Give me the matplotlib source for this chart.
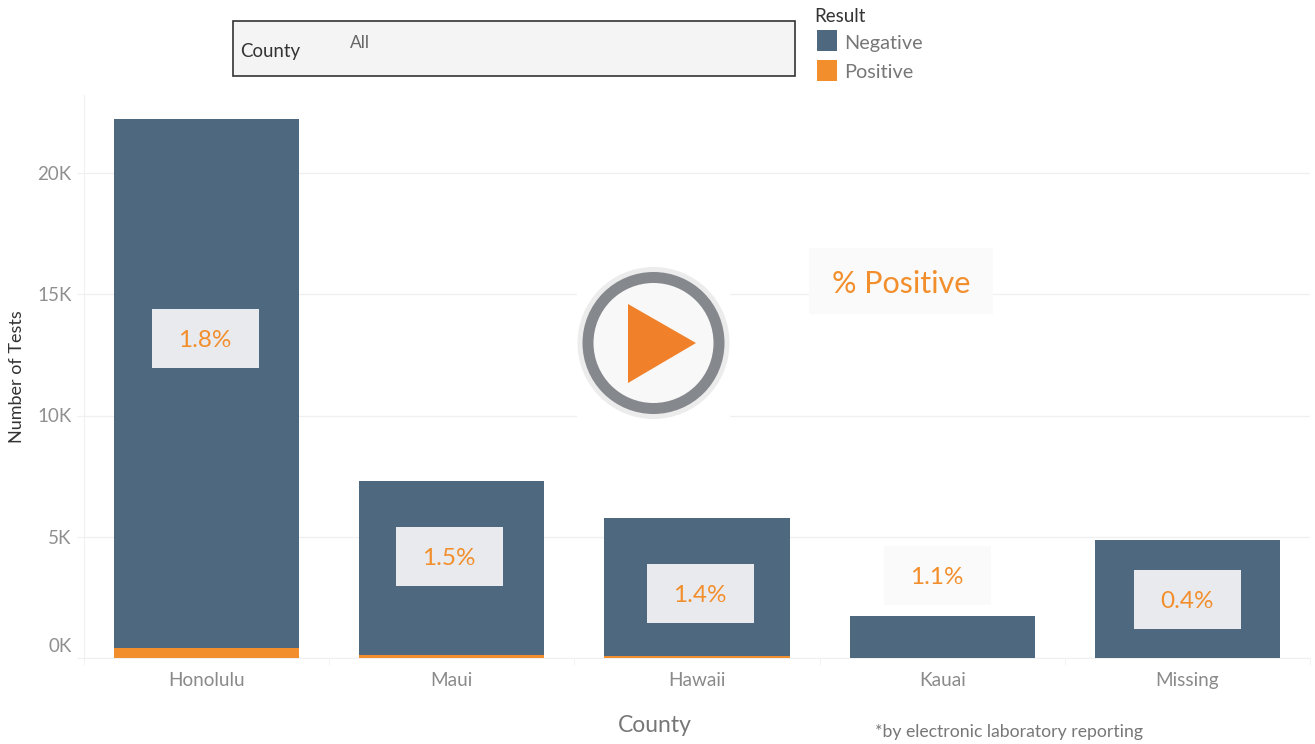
import matplotlib
matplotlib.use('Agg')
from matplotlib import pyplot as plt
from matplotlib.patches import Rectangle, Circle, Polygon
from matplotlib.transforms import ScaledTranslation
import numpy as np

plt.rcParams['font.family'] = ['Lato', 'DejaVu Sans']

counties = ['Honolulu', 'Maui', 'Hawaii', 'Kauai', 'Missing']
total_tests = [22240, 7300, 5780, 1730, 4870]
positive_tests = [430, 115, 80, 20, 20]
negative_tests = [t - p for t, p in zip(total_tests, positive_tests)]
pct_labels = ['1.8%', '1.5%', '1.4%', '1.1%', '0.4%']
y_ticks = [0, 5000, 10000, 15000, 20000]
y_tick_labels = ['0K', '5K', '10K', '15K', '20K']

W, H = 1315, 744
BLUE = '#4e6880'
ORANGE = '#f28e2b'
GRID = '#f0f0f0'

fig = plt.figure(figsize=(W / 100, H / 100), dpi=100)

# main chart, placed in pixels
ax_l, ax_r, ax_t, ax_b = 84, 1310, 95, 658
ax = fig.add_axes([ax_l / W, 1 - ax_b / H, (ax_r - ax_l) / W, (ax_b - ax_t) / H])
x = np.arange(len(counties))
ax.bar(x, positive_tests, width=0.755, color=ORANGE, zorder=3)
ax.bar(x, negative_tests, width=0.755, bottom=positive_tests, color=BLUE, zorder=3)
ax.set_xlim(-0.5, 4.5)
ax.set_ylim(0, (ax_b - ax_t) / 24.25 * 1000)

ax.set_yticks(y_ticks)
ax.set_yticklabels(y_tick_labels, fontsize=13.5, color='#8f8f8f')
ax.set_xticks(x)
ax.set_xticklabels(counties, fontsize=13.7, color='#8a8a8a')
ax.tick_params(axis='x', length=0, pad=10)
ax.tick_params(axis='y', length=5, color=GRID, pad=4)
ax.set_xticks(np.arange(-0.5, 5, 1), minor=True)
ax.tick_params(axis='x', which='minor', length=5, color=GRID)
ax.grid(True, axis='y', color=GRID, linewidth=1, zorder=0)
for s in ['top', 'right']:
    ax.spines[s].set_visible(False)
ax.spines['left'].set_color(GRID)
ax.spines['bottom'].set_color(GRID)
ax.set_facecolor('white')

# the 0K label sits above the baseline in the original
zero_label = ax.get_yticklabels()[0]
zero_label.set_verticalalignment('bottom')
zero_label.set_transform(zero_label.get_transform() + ScaledTranslation(0, 3 / 100, fig.dpi_scale_trans))

# overlay in pixel coordinates for the dashboard pieces
ov = fig.add_axes([0, 0, 1, 1], zorder=5)
ov.set_xlim(0, W)
ov.set_ylim(H, 0)
ov.axis('off')

# % labels on bars
boxes = [(152, 309), (396, 527), (647, 564), (884, 546), (1134, 570)]
for i, (bx, by) in enumerate(boxes):
    fc = '#fafafa' if counties[i] == 'Kauai' else '#e9eaee'
    ov.add_patch(Rectangle((bx, by), 107, 59, facecolor=fc, edgecolor='none'))
    ov.text(bx + 53, by + 31.5, pct_labels[i], ha='center', va='center', fontsize=17.5, color=ORANGE)

# % Positive callout
ov.add_patch(Rectangle((809, 248), 184, 66, facecolor='#fafafa', edgecolor='none'))
ov.text(901, 284, '% Positive', ha='center', va='center', fontsize=22, color=ORANGE)

# play button
ov.add_patch(Rectangle((577, 267), 153, 153, facecolor='white', edgecolor='none'))
ov.add_patch(Circle((653.5, 343), 76, facecolor='#ececec', edgecolor='none'))
ov.add_patch(Circle((653.5, 343), 71, facecolor='#85888d', edgecolor='none'))
ov.add_patch(Circle((653.5, 343), 60, facecolor='#f8f8f8', edgecolor='none'))
ov.add_patch(Polygon([(628, 304), (696, 343), (628, 383)], closed=True, facecolor='#f0812a', edgecolor='none'))

# county filter
ov.add_patch(Rectangle((233, 21), 562, 55, facecolor='#f4f4f4', edgecolor='#333333', linewidth=1.2))
ov.text(240, 51, 'County', ha='left', va='center', fontsize=13.4, color='#333333')
ov.text(350, 43, 'All', ha='left', va='center', fontsize=12.5, color='#666666')

# legend
ov.text(814, 17, 'Result', ha='left', va='center', fontsize=13.5, color='#333333')
ov.add_patch(Rectangle((817, 30), 20, 21, facecolor=BLUE, edgecolor='none'))
ov.text(844, 43, 'Negative', ha='left', va='center', fontsize=14.3, color='#777777')
ov.add_patch(Rectangle((817, 60), 20, 21, facecolor=ORANGE, edgecolor='none'))
ov.text(844, 73, 'Positive', ha='left', va='center', fontsize=14.3, color='#777777')

# axis titles and footnote
ov.text(655, 725, 'County', ha='center', va='center', fontsize=16.5, color='#777777')
ov.text(17, 377, 'Number of Tests', ha='center', va='center', rotation=90, fontsize=13, color='#333333')
ov.text(875, 732, '*by electronic laboratory reporting', ha='left', va='center', fontsize=12.7, color='#777777')

fig.savefig('out.png', dpi=100)
